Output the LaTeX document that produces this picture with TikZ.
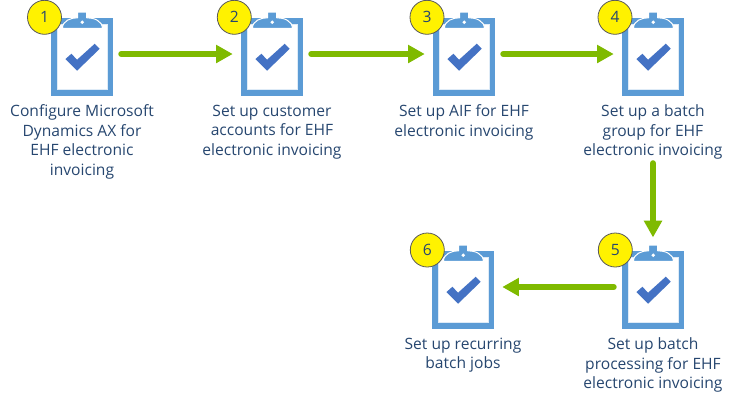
\documentclass[tikz,border=0pt]{standalone}
\usepackage{fontspec}
\setmainfont{Open Sans}
\usepackage{xcolor}
\usetikzlibrary{arrows.meta, positioning}
\definecolor{cbblue}{HTML}{5B9BD5}
\definecolor{cbpale}{HTML}{DEEBF7}
\definecolor{cbcheck}{HTML}{4472C4}
\definecolor{cbgreen}{HTML}{7FBA00}
\definecolor{cbtext}{HTML}{26466F}
\definecolor{cbyellow}{HTML}{FFF200}

\begin{document}
\begin{tikzpicture}[
  x=0.75pt, y=-0.75pt,
  board/.style={rectangle, fill=cbblue, inner sep=0pt, minimum width=46.5pt, minimum height=58.5pt},
  caption/.style={font=\fontsize{11.7pt}{14.7pt}\selectfont, text=cbtext, align=center, inner sep=0pt, below=6.2pt of #1},
  badge/.style={circle, draw=black!65, fill=cbyellow, line width=0.6pt, minimum size=25.5pt, inner sep=0pt,
    font=\fontsize{11.7pt}{12pt}\selectfont, text=cbtext},
  arr/.style={-{Triangle[length=12.5pt, width=13pt]}, line width=4.5pt, cbgreen, line cap=round},
  up/.style={yshift=2.25pt},
]
  \useasboundingbox (0,0) rectangle (735,401);

  \node[board] (board1) at (82,57) {};
  \node[board] (board2) at (272,57) {};
  \node[board] (board3) at (464,57) {};
  \node[board] (board4) at (653,57) {};
  \node[board] (board5) at (653,290) {};
  \node[board] (board6) at (463,290) {};

  % sheet, clip and tick of every clipboard
  \foreach \b in {1,...,6} {
    \begin{scope}[shift={(board\b.north west)}]
      \fill[white, draw=cbpale, line width=0.75pt] (6.5,7) rectangle (56.5,71.5);
      \fill[cbblue, draw=white, line width=0.75pt] (11.7,10.7) .. controls (11.7,3) and (20,0) .. (27,0) -- (27,-5.7) -- (36,-5.7) -- (36,0)
        .. controls (43,0) and (51.7,3) .. (51.7,10.7) -- cycle;
      \fill[white] (31.5,4.5) circle[radius=1.8];
      \fill[cbcheck] (14.7,41.3) -- (20.7,36) -- (26.3,42) -- (44,26) -- (49,31) -- (26.3,53) -- cycle;
    \end{scope}
  }

  \node[badge] (badge1) at (44.5,17.3) {1};
  \node[badge] (badge2) at (234.3,17.3) {2};
  \node[badge] (badge3) at (427,17.3) {3};
  \node[badge] (badge4) at (615,17.3) {4};
  \node[badge] (badge5) at (615.3,250) {5};
  \node[badge] (badge6) at (427.3,250) {6};

  \node[caption=board1] (text1) {Configure Microsoft\\Dynamics AX for\\EHF electronic\\invoicing};
  \node[caption=board2] (text2) {Set up customer\\accounts for EHF\\electronic invoicing};
  \node[caption=board3] (text3) {Set up AIF for EHF\\electronic invoicing};
  \node[caption=board4] (text4) {Set up a batch\\group for EHF\\electronic invoicing};
  \node[caption=board5] (text5) {Set up batch\\processing for EHF\\electronic invoicing};
  \node[caption=board6] (text6) {Set up recurring\\batch jobs};

  \draw[arr, shorten <=6pt, shorten >=6pt] ([up]board1.east) -- ([up]board2.west);
  \draw[arr, shorten <=6pt, shorten >=6pt] ([up]board2.east) -- ([up]board3.west);
  \draw[arr, shorten <=6pt, shorten >=6pt] ([up]board3.east) -- ([up]board4.west);
  \draw[arr, shorten <=2.5pt, shorten >=10pt] (text4) -- (board5);
  \draw[arr, shorten <=6pt, shorten >=6pt] ([up]board5.west) -- ([up]board6.east);
\end{tikzpicture}
\end{document}
